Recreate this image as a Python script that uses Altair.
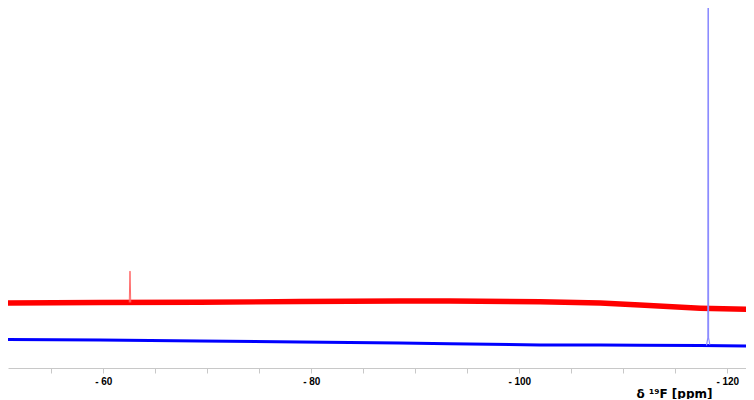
import altair as alt
import pandas as pd

# --- data (ppm positions, intensity in arbitrary units) ---
ppm_pts = [-50.0, -59.7, -69.3, -78.9, -88.5, -93.3, -102.0, -107.8, -111.6, -117.4, -122.6]
red_center = [18.06, 18.19, 18.25, 18.47, 18.61, 18.61, 18.42, 18.06, 17.5, 16.58, 16.25]
red_noise = [0.75, 0.75, 0.75, 0.75, 0.75, 0.75, 0.75, 0.75, 0.75, 0.75, 0.75]
blue_center = [7.92, 7.78, 7.5, 7.22, 6.94, 6.72, 6.39, 6.39, 6.31, 6.25, 6.11]
blue_noise = [0.42, 0.42, 0.42, 0.42, 0.42, 0.42, 0.42, 0.42, 0.42, 0.42, 0.42]

red_peak_ppm = [-62.50, -62.56, -62.58, -62.64]
red_peak_int = [18.2, 26.9, 26.9, 18.2]

blue_peak_ppm = [-118.00, -118.13, -118.17, -118.20, -118.32]
blue_peak_int = [6.3, 8.4, 200.0, 8.4, 6.5]

tick_values = [-55, -60, -65, -70, -75, -80, -85, -90, -95, -100, -105, -110, -115, -120]

bands = pd.DataFrame({
    "ppm": ppm_pts,
    "red_lo": [c - n for c, n in zip(red_center, red_noise)],
    "red_hi": [c + n for c, n in zip(red_center, red_noise)],
    "blue_lo": [c - n for c, n in zip(blue_center, blue_noise)],
    "blue_hi": [c + n for c, n in zip(blue_center, blue_noise)],
})
red_peak = pd.DataFrame({"ppm": red_peak_ppm, "intensity": red_peak_int, "i": range(len(red_peak_ppm))})
blue_peak = pd.DataFrame({"ppm": blue_peak_ppm, "intensity": blue_peak_int, "i": range(len(blue_peak_ppm))})

xscale = alt.Scale(domain=[-121.8, -50.84], reverse=True, nice=False, zero=False)
yscale = alt.Scale(domain=[0, 100], nice=False, zero=False)

xaxis = alt.Axis(
    values=tick_values,
    labelExpr="datum.value % 20 == 0 ? '- ' + abs(datum.value) : ''",
    grid=False,
    domainColor="#c8c8c8",
    tickColor="#c8c8c8",
    tickSize=5,
    labelFont="Liberation Sans",
    labelFontWeight="bold",
    labelFontSize=10,
    labelColor="#000000",
    labelPadding=3,
    labelOverlap=False,
    labelFlush=False,
    title="δ ¹⁹F [ppm]",
    titleFont="DejaVu Sans",
    titleFontWeight="bold",
    titleFontSize=12,
    titleColor="#000000",
    titleX=666,
    titleY=25,
    titleAlign="center",
    titleBaseline="middle",
)

x_enc = alt.X("ppm:Q", scale=xscale, axis=xaxis)

red_band = alt.Chart(bands).mark_area(color="#ff0000", clip=True).encode(
    x=x_enc,
    y=alt.Y("red_lo:Q", scale=yscale, axis=None),
    y2="red_hi:Q",
)
blue_band = alt.Chart(bands).mark_area(color="#0000ff", clip=True).encode(
    x=x_enc,
    y=alt.Y("blue_lo:Q", scale=yscale, axis=None),
    y2="blue_hi:Q",
)
red_line = alt.Chart(red_peak).mark_line(color="#ff6a6a", strokeWidth=1, clip=True).encode(
    x=x_enc,
    y=alt.Y("intensity:Q", scale=yscale, axis=None),
    order="i:Q",
)
blue_line = alt.Chart(blue_peak).mark_line(color="#8c8cff", strokeWidth=1.2, clip=True).encode(
    x=x_enc,
    y=alt.Y("intensity:Q", scale=yscale, axis=None),
    order="i:Q",
)

chart = alt.layer(red_band, blue_band, red_line, blue_line).properties(
    width=738, height=360, padding=0
).configure_view(stroke=None)

chart.save("out.html", embed_options={"renderer": "svg", "actions": False})
